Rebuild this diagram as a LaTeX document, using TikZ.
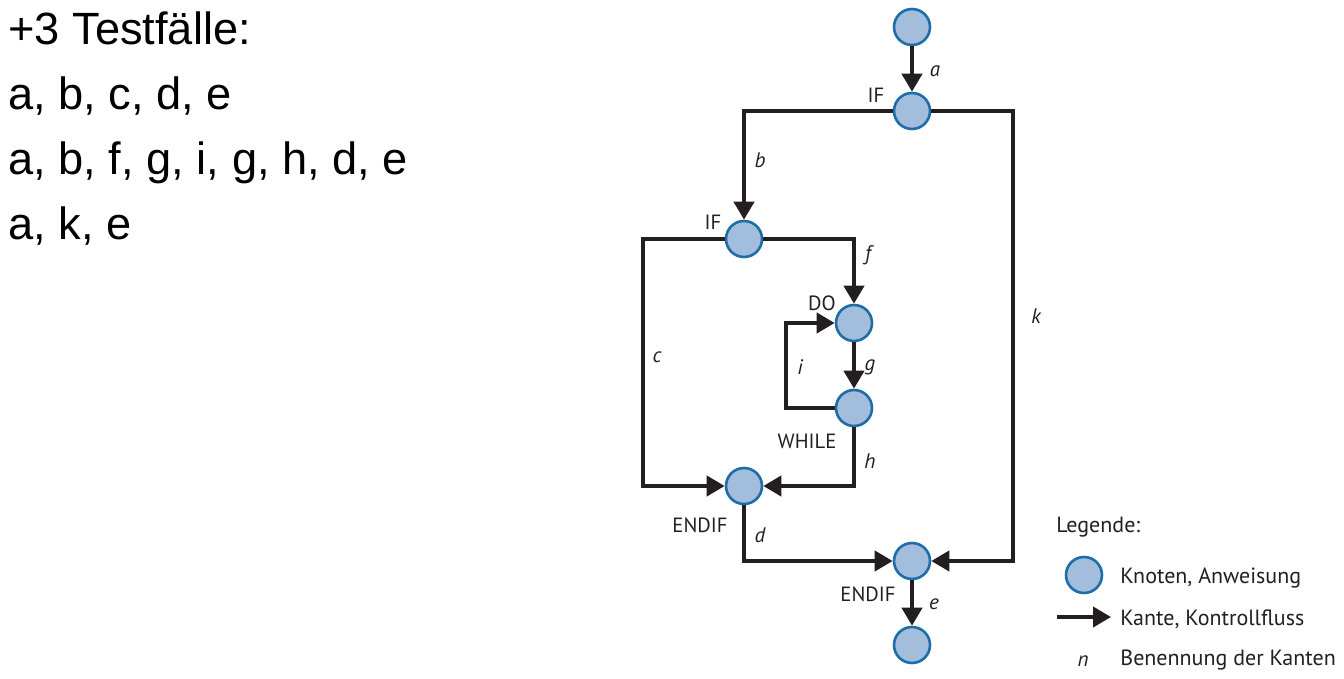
\documentclass[tikz,border=0pt]{standalone}
\usepackage{fontspec}
\setmainfont{Liberation Sans}
\newfontfamily\diafont{PT Sans}
\usetikzlibrary{arrows.meta}
\definecolor{nodefill}{HTML}{A3BEDD}
\definecolor{nodedraw}{HTML}{1F6DA6}
\definecolor{linec}{HTML}{231F20}
\begin{document}
\begin{tikzpicture}[x=0.5pt,y=-0.5pt,
  stmt/.style={circle,draw=nodedraw,fill=nodefill,line width=1.3pt,minimum size=18pt,inner sep=0pt},
  flow/.style={draw=linec,line width=2pt,-{Triangle[length=9pt,width=10pt]}},
  plain/.style={draw=linec,line width=2pt},
  kw/.style={font=\diafont\fontsize{10.3}{12}\selectfont,text=linec,inner sep=0pt},
  lbl/.style={font=\diafont\itshape\fontsize{10.5}{12}\selectfont,text=linec,inner sep=0pt},
  leg/.style={font=\diafont\fontsize{11}{13}\selectfont,text=linec,inner sep=0pt,anchor=west},
  big/.style={font=\fontsize{22.6}{27}\selectfont,inner sep=0pt,anchor=base west}]
\useasboundingbox (0,0) rectangle (1344,679);
% left text
\node[big] (t1) at (8,45) {+3 Testfälle:};
\node[big] (t2) at (8,110) {a, b, c, d, e};
\node[big] (t3) at (8,175) {a, b, f, g, i, g, h, d, e};
\node[big] (t4) at (8,240) {a, k, e};
% nodes
\node[stmt] (start) at (912,27) {};
\node[stmt] (if1) at (912,111) {};
\node[stmt] (if2) at (744,239) {};
\node[stmt] (do) at (854,323) {};
\node[stmt] (while) at (854,408) {};
\node[stmt] (endif1) at (744,486) {};
\node[stmt] (endif2) at (912,561) {};
\node[stmt] (stop) at (912,645) {};
% node keywords
\node[kw] (kif1) at (876,95) {IF};
\node[kw] (kif2) at (713,222) {IF};
\node[kw] (kdo) at (822,303) {DO};
\node[kw] (kwhile) at (807,441) {WHILE};
\node[kw] (kend1) at (700,525) {ENDIF};
\node[kw] (kend2) at (868,594) {ENDIF};
% corner coordinates
\coordinate (kc) at (1013,111);
\coordinate (cc) at (643,239);
\coordinate (ic) at (786,408);
% edges
\draw[flow] (start) -- (if1);
\draw[flow] (if1) -| (if2);
\draw[flow] (if1) -- (kc) |- (endif2);
\draw[flow] (if2) -- (cc) |- (endif1);
\draw[flow] (if2) -| (do);
\draw[flow] (do) -- (while);
\draw[flow] (while) -- (ic) |- (do);
\draw[flow] (while) |- (endif1);
\draw[flow] (endif1) |- (endif2);
\draw[flow] (endif2) -- (stop);
% edge labels
\node[lbl] (la) at (935,71) {a};
\node[lbl] (lb) at (760,160) {b};
\node[lbl] (lk) at (1036,316) {k};
\node[lbl] (lc) at (657,357) {c};
\node[lbl] (lf) at (868,255) {f};
\node[lbl] (lg) at (870,367) {g};
\node[lbl] (li) at (800,367) {i};
\node[lbl] (lh) at (870,461) {h};
\node[lbl] (ld) at (760,535) {d};
\node[lbl] (le) at (934,604) {e};
% legend
\node[leg] (legt) at (1056,527) {Legende:};
\node[stmt] (legc) at (1084,575) {};
\node[leg] (legct) at (1120,578) {Knoten, Anweisung};
\coordinate (la0) at (1057,617);
\coordinate (la1) at (1111,617);
\draw[flow] (la0) -- (la1);
\node[leg] (legat) at (1120,619) {Kante, Kontrollfluss};
\node[lbl] (legn) at (1083,661) {n};
\node[leg] (legnt) at (1120,660) {Benennung der Kanten};
\end{tikzpicture}
\end{document}
